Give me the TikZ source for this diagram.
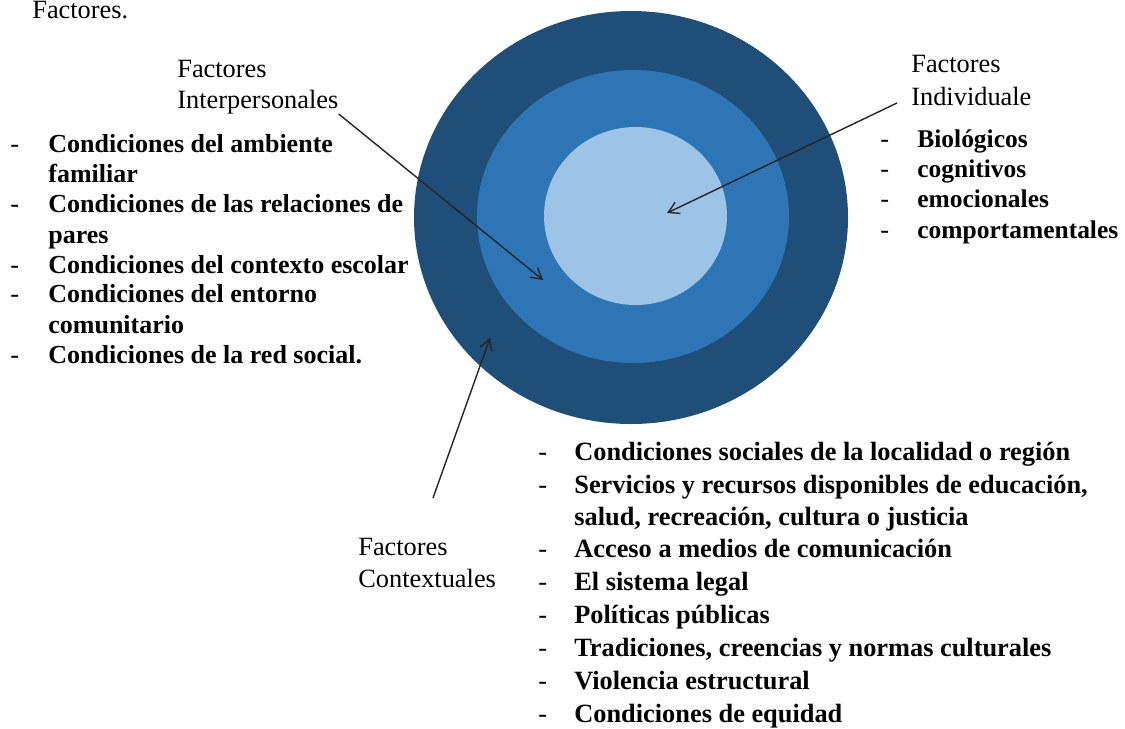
\documentclass[tikz,border=0pt]{standalone}
\usepackage{fontspec}
\setmainfont{Liberation Serif}
\usetikzlibrary{positioning,arrows.meta}

\definecolor{ringdark}{RGB}{31,78,121}
\definecolor{ringmid}{RGB}{46,117,182}
\definecolor{ringlight}{RGB}{157,195,230}

\begin{document}
\begin{tikzpicture}[x=0.02cm, y=-0.02cm,
    lbl/.style={font=\fontsize{15}{17}\selectfont, inner sep=0pt, anchor=base west},
    itm/.style={font=\bfseries\fontsize{15}{17}\selectfont, inner sep=0pt, anchor=base west},
    pointer/.style={-{Straight Barb[length=6pt,width=7pt]}, line width=0.8pt, black!85}]
    \useasboundingbox (0,0) rectangle (1125,728);

    % Rings
    \fill[ringdark] (631,217.5) ellipse [x radius=217, y radius=206.5];
    \fill[ringmid] (633,216.5) ellipse [x radius=156, y radius=146.5];
    \fill[ringlight] (635.5,216) ellipse [x radius=91.5, y radius=89];

    % Title
    \node[lbl] (title) at (32,18) {Factores.};

    % Labels
    \node[lbl] (interpA) at (177,77) {Factores};
    \node[lbl] (interpB) at (177,108) {Interpersonales};
    \node[lbl] (indivA) at (911,72) {Factores};
    \node[lbl] (indivB) at (911,105) {Individuale};
    \node[lbl] (ctxA) at (358,555) {Factores};
    \node[lbl] (ctxB) at (358,587) {Contextuales};

    % Arrow tips
    \coordinate (inttip) at (543,280);
    \coordinate (indtip) at (667,213);
    \coordinate (ctxtip) at (490,338);

    % Arrows
    \draw[pointer] (interpB.south east) -- (inttip);
    \draw[pointer] ([shift={(-14,-2)}]indivB.base west) -- (indtip);
    \draw[pointer] ([shift={(75,-57)}]ctxA.base west) -- (ctxtip);

    % Interpersonal list
    \foreach \yy in {152,212,273,302,363}
        \node[lbl] (intdash\yy) at (10,\yy) {-};
    \foreach \yy/\txt in {152/{Condiciones del ambiente}, 182/{familiar},
        212/{Condiciones de las relaciones de}, 243/{pares},
        273/{Condiciones del contexto escolar}, 302/{Condiciones del entorno},
        333/{comunitario}, 363/{Condiciones de la red social.}}
        \node[itm, font=\bfseries\fontsize{14.8}{17}\selectfont] (intitem\yy) at (48,\yy) {\txt};

    % Individual list
    \foreach \yy/\txt in {147/{Biológicos}, 177/{cognitivos},
        207/{emocionales}, 238/{comportamentales}} {
        \node[lbl] (inddash\yy) at (880,\yy) {-};
        \node[itm, font=\bfseries\fontsize{14.5}{17}\selectfont] (inditem\yy) at (917,\yy) {\txt};
    }

    % Contextual list
    \foreach \yy in {460,493,557,590,623,656,689,722}
        \node[lbl] (ctxdash\yy) at (538,\yy) {-};
    \foreach \yy/\txt in {460/{Condiciones sociales de la localidad o región},
        493/{Servicios y recursos disponibles de educación,},
        525/{salud, recreación, cultura o justicia},
        557/{Acceso a medios de comunicación}, 590/{El sistema legal},
        623/{Políticas públicas}, 656/{Tradiciones, creencias y normas culturales},
        689/{Violencia estructural}, 722/{Condiciones de equidad}}
        \node[itm] (ctxitem\yy) at (574,\yy) {\txt};
\end{tikzpicture}
\end{document}
